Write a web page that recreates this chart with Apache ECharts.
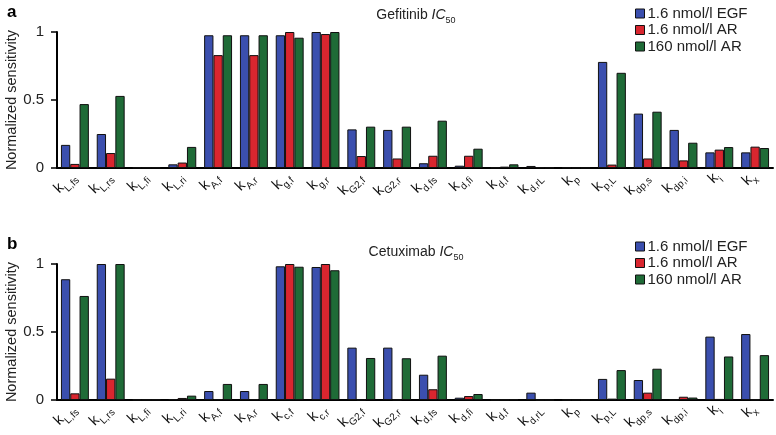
<!DOCTYPE html>
<html>
<head>
<meta charset="utf-8">
<script src="https://cdn.jsdelivr.net/npm/echarts@6/dist/echarts.min.js"></script>
<style>html,body{margin:0;padding:0;background:#fff}#c{width:776px;height:435px}</style>
</head>
<body>
<div id="c"></div>
<script>
// Subscripts of k for each category
var catsTop = ['L,fs','L,rs','L,fi','L,ri','A,f','A,r','g,f','g,r','G2,f','G2,r','d,fs','d,fi','d,f','d,rL','p','p,L','dp,s','dp,i','i','x'];
var catsBot = ['L,fs','L,rs','L,fi','L,ri','A,f','A,r','c,f','c,r','G2,f','G2,r','d,fs','d,fi','d,f','d,rL','p','p,L','dp,s','dp,i','i','x'];
var seriesNames = ['1.6 nmol/l EGF','1.6 nmol/l AR','160 nmol/l AR'];
var yTicks = [0, 0.5, 1];

// Gefitinib IC50
var gefEGF  = [0.17,0.25,0.003,0.027,0.976,0.976,0.976,1.0,0.284,0.28,0.035,0.017,0.003,0.015,0.003,0.78,0.40,0.28,0.115,0.115];
var gefAR16 = [0.03,0.11,0.003,0.04,0.83,0.83,1.0,0.985,0.088,0.07,0.09,0.09,0.01,0.005,0.002,0.025,0.07,0.056,0.135,0.157];
var gefAR160= [0.47,0.53,0.003,0.155,0.976,0.976,0.958,1.0,0.304,0.304,0.348,0.142,0.027,0.003,0.002,0.70,0.414,0.186,0.154,0.147];

// Cetuximab IC50
var cetEGF  = [0.888,1.0,0.003,0.007,0.066,0.066,0.983,0.978,0.385,0.385,0.186,0.017,0.002,0.054,0.002,0.155,0.147,0.002,0.466,0.485];
var cetAR16 = [0.049,0.157,0.003,0.015,0.007,0.007,1.0,1.0,0.002,0.002,0.079,0.029,0.003,0.002,0.002,0.01,0.054,0.024,0.008,0.003];
var cetAR160= [0.765,1.0,0.003,0.032,0.118,0.118,0.98,0.954,0.309,0.307,0.326,0.044,0.005,0.002,0.002,0.22,0.23,0.018,0.32,0.33];

var colors = ['#3b4fae','#d9262f','#1f6b37'];
var FONT = 'Liberation Sans, Arial, Helvetica, sans-serif';

function xAxis(cats, gi){
  return {
    type:'category', gridIndex:gi, data:cats,
    axisLine:{show:true, lineStyle:{color:'#000', width:2}},
    axisTick:{show:false},
    axisLabel:{
      interval:0, rotate:45, margin:8,
      formatter:function(v){ return '{k|k}{s|' + v + '}'; },
      rich:{
        k:{fontFamily:FONT, fontSize:15, color:'#111', lineHeight:20, verticalAlign:'top', padding:[0,0,0,0]},
        s:{fontFamily:FONT, fontSize:10, color:'#111', padding:[9,0,0,0], verticalAlign:'top'}
      }
    }
  };
}
function yAxis(gi){
  return {
    type:'value', gridIndex:gi, min:yTicks[0], max:yTicks[yTicks.length-1], interval:yTicks[1]-yTicks[0],
    name:'Normalized sensitivity', nameLocation:'middle', nameRotate:90, nameGap:38, nameMoveOverlap:false,
    nameTextStyle:{fontFamily:FONT, fontSize:14.5, color:'#222'},
    axisLine:{show:true, lineStyle:{color:'#000', width:2}},
    axisTick:{show:true, inside:false, length:6, lineStyle:{color:'#000', width:1.5}},
    axisLabel:{fontFamily:FONT, fontSize:15, color:'#222', margin:13},
    splitLine:{show:false}
  };
}
function bars(name, data, ci, gi){
  return {
    name:name, type:'bar', xAxisIndex:gi, yAxisIndex:gi, data:data,
    barGap:'0%', barCategoryGap:'22%',
    itemStyle:{color:colors[ci], borderColor:'#111', borderWidth:1},
    emphasis:{disabled:true}, animation:false
  };
}
function legend(top){
  return {
    orient:'vertical', left:630, top:top, itemWidth:9, itemHeight:9, itemGap:1.5,
    icon:'rect', data:seriesNames, selectedMode:false,
    itemStyle:{borderColor:'#111', borderWidth:1},
    textStyle:{fontFamily:FONT, fontSize:15, color:'#222', padding:[0,0,0,-2]}
  };
}
function title(txt, top){
  return {
    text:'{n|' + txt + ' }{i|IC}{s|50}', left:411, top:top, textAlign:'center',
    textStyle:{fontWeight:'normal', rich:{
      n:{fontFamily:FONT, fontSize:14, fontWeight:'normal', color:'#222', lineHeight:18, verticalAlign:'top'},
      i:{fontFamily:FONT, fontSize:14, fontWeight:'normal', fontStyle:'italic', color:'#222', lineHeight:18, verticalAlign:'top'},
      s:{fontFamily:FONT, fontSize:9, fontWeight:'normal', color:'#222', padding:[8,0,0,0], verticalAlign:'top'}
    }}
  };
}

var chart = echarts.init(document.getElementById('c'), null, {renderer:'canvas'});
chart.setOption({
  animation:false,
  color:colors,
  title:[
    title('Gefitinib', 3),
    title('Cetuximab', 240),
    {text:'a', left:2, top:-1, textStyle:{fontFamily:FONT, fontSize:17, fontWeight:'bold', color:'#000'}},
    {text:'b', left:2, top:231, textStyle:{fontFamily:FONT, fontSize:17, fontWeight:'bold', color:'#000'}}
  ],
  legend:[legend(1), legend(234)],
  grid:[
    {left:57, right:3, top:32, height:136, containLabel:false, outerBoundsMode:'none'},
    {left:57, right:3, top:264, height:136, containLabel:false, outerBoundsMode:'none'}
  ],
  xAxis:[xAxis(catsTop,0), xAxis(catsBot,1)],
  yAxis:[yAxis(0), yAxis(1)],
  series:[
    bars(seriesNames[0], gefEGF, 0, 0),
    bars(seriesNames[1], gefAR16, 1, 0),
    bars(seriesNames[2], gefAR160, 2, 0),
    bars(seriesNames[0], cetEGF, 0, 1),
    bars(seriesNames[1], cetAR16, 1, 1),
    bars(seriesNames[2], cetAR160, 2, 1)
  ]
});
</script>
</body>
</html>
